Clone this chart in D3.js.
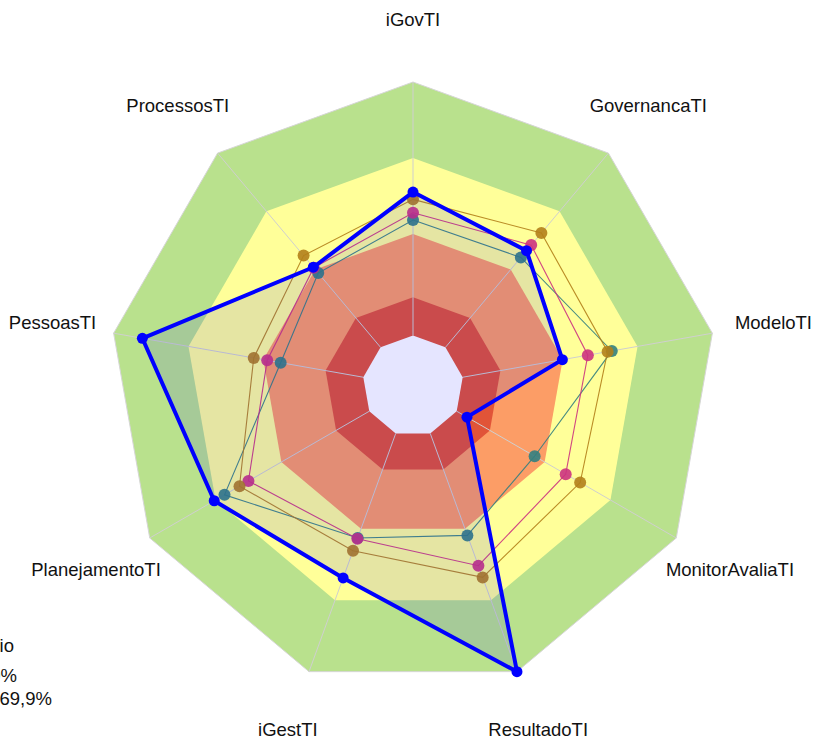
<!DOCTYPE html>
<html>
<head>
<meta charset="utf-8">
<script src="https://cdn.jsdelivr.net/npm/d3@7"></script>
<style>
  body { margin: 0; background: #fff; }
  svg { display: block; }
</style>
</head>
<body>
<div id="viz"></div>
<script>
var axes = ['iGovTI', 'GovernancaTI', 'ModeloTI', 'MonitorAvaliaTI', 'ResultadoTI', 'iGestTI', 'PlanejamentoTI', 'PessoasTI', 'ProcessosTI'];

// values in %
var orgao   = [63.8, 58.1, 49.9, 20.5, 100, 67.2, 75.5, 90.4, 51.0];
var teal    = [54.6, 55.2, 66.4, 46.2, 52.3, 53.2, 71.6, 44.2, 48.5];
var magenta = [57.0, 60.5, 58.4, 58.0, 62.9, 53.5, 62.5, 48.7, 50.8];
var golden  = [61.4, 65.7, 65.0, 63.5, 67.0, 57.7, 65.9, 53.2, 56.0];

// band limits (%)
var bands = [100, 75, 50, 29.2, 16.6];
var bandColors = ['#b9e18d', '#ffff99', '#fc9d66', '#e15438', '#ffffff'];

var legendLines = ['Estágio', 'Inicial: < 40%', 'Intermediário: 40% a 69,9%'];

var width = 814;
var height = 737;
var cx = 413, cy = 386;
var R = 304;

var r = d3.scaleLinear().domain([0, 100]).range([0, R]);
var step = 2 * Math.PI / axes.length;

var svg = d3.select('#viz')
  .append('svg')
  .attr('width', width)
  .attr('height', height)
  .style('font-family', 'Liberation Sans, Arial, sans-serif');

var g = svg.append('g')
  .attr('transform', `translate(${cx},${cy})`);

function polyLine() {
  return d3.lineRadial()
    .angle(function(d, i) { return i * step; })
    .radius(function(d) { return r(d); })
    .curve(d3.curveLinearClosed);
}

// background bands
g.selectAll('path.band').data(bands)
  .enter().append('path')
  .attr('class', 'band')
  .attr('d', function(b) { return polyLine()(axes.map(function() { return b; })); })
  .attr('fill', function(b, i) { return bandColors[i]; })
  .attr('stroke', function(b, i) { return i == 0 ? '#d6d6d6' : 'none'; })
  .attr('stroke-width', 1);

// spokes
g.selectAll('line.spoke').data(axes)
  .enter().append('line')
  .attr('class', 'spoke')
  .attr('x1', function(d, i) { return d3.pointRadial(i * step, r(bands[4]))[0]; })
  .attr('y1', function(d, i) { return d3.pointRadial(i * step, r(bands[4]))[1]; })
  .attr('x2', function(d, i) { return d3.pointRadial(i * step, r(100))[0]; })
  .attr('y2', function(d, i) { return d3.pointRadial(i * step, r(100))[1]; })
  .attr('stroke', '#cfcfcf')
  .attr('stroke-width', 1);

// other series
var series = [
  {vals: teal, color: 'rgba(51,128,128,0.9)'},
  {vals: magenta, color: 'rgba(204,51,128,0.9)'},
  {vals: golden, color: 'rgba(179,128,26,0.9)'}
];

series.forEach(function(s) {
  g.append('path')
    .attr('d', polyLine()(s.vals))
    .attr('fill', 'none')
    .attr('stroke', s.color)
    .attr('stroke-width', 1.1);
  g.selectAll(null).data(s.vals)
    .enter().append('circle')
    .attr('cx', function(d, i) { return d3.pointRadial(i * step, r(d))[0]; })
    .attr('cy', function(d, i) { return d3.pointRadial(i * step, r(d))[1]; })
    .attr('r', 6)
    .attr('fill', s.color);
});

// main series, filled over everything
g.append('path')
  .attr('d', polyLine()(orgao))
  .attr('fill', 'rgba(0,0,255,0.1)')
  .attr('stroke', '#0000ff')
  .attr('stroke-width', 4)
  .attr('stroke-linejoin', 'round');

g.selectAll('circle.orgao').data(orgao)
  .enter().append('circle')
  .attr('class', 'orgao')
  .attr('cx', function(d, i) { return d3.pointRadial(i * step, r(d))[0]; })
  .attr('cy', function(d, i) { return d3.pointRadial(i * step, r(d))[1]; })
  .attr('r', 5.5)
  .attr('fill', '#0000ff');

// axis labels
g.selectAll('text.lab').data(axes)
  .enter().append('text')
  .attr('class', 'lab')
  .attr('x', function(d, i) { return d3.pointRadial(i * step, r(120.4))[0]; })
  .attr('y', function(d, i) { return d3.pointRadial(i * step, r(120.4))[1]; })
  .attr('text-anchor', 'middle')
  .attr('dominant-baseline', 'central')
  .attr('font-size', '18.5px')
  .attr('fill', '#111')
  .text(function(d) { return d; });

// legend (cut off at the left edge)
var legendEnds = [14, 17, 52];
var legendY = [645, 675, 698];
svg.selectAll('text.leg').data(legendLines)
  .enter().append('text')
  .attr('class', 'leg')
  .attr('x', function(d, i) { return legendEnds[i]; })
  .attr('y', function(d, i) { return legendY[i]; })
  .attr('text-anchor', 'end')
  .attr('dominant-baseline', 'central')
  .attr('font-size', '18.5px')
  .attr('fill', '#111')
  .text(function(d) { return d; });
</script>
</body>
</html>
